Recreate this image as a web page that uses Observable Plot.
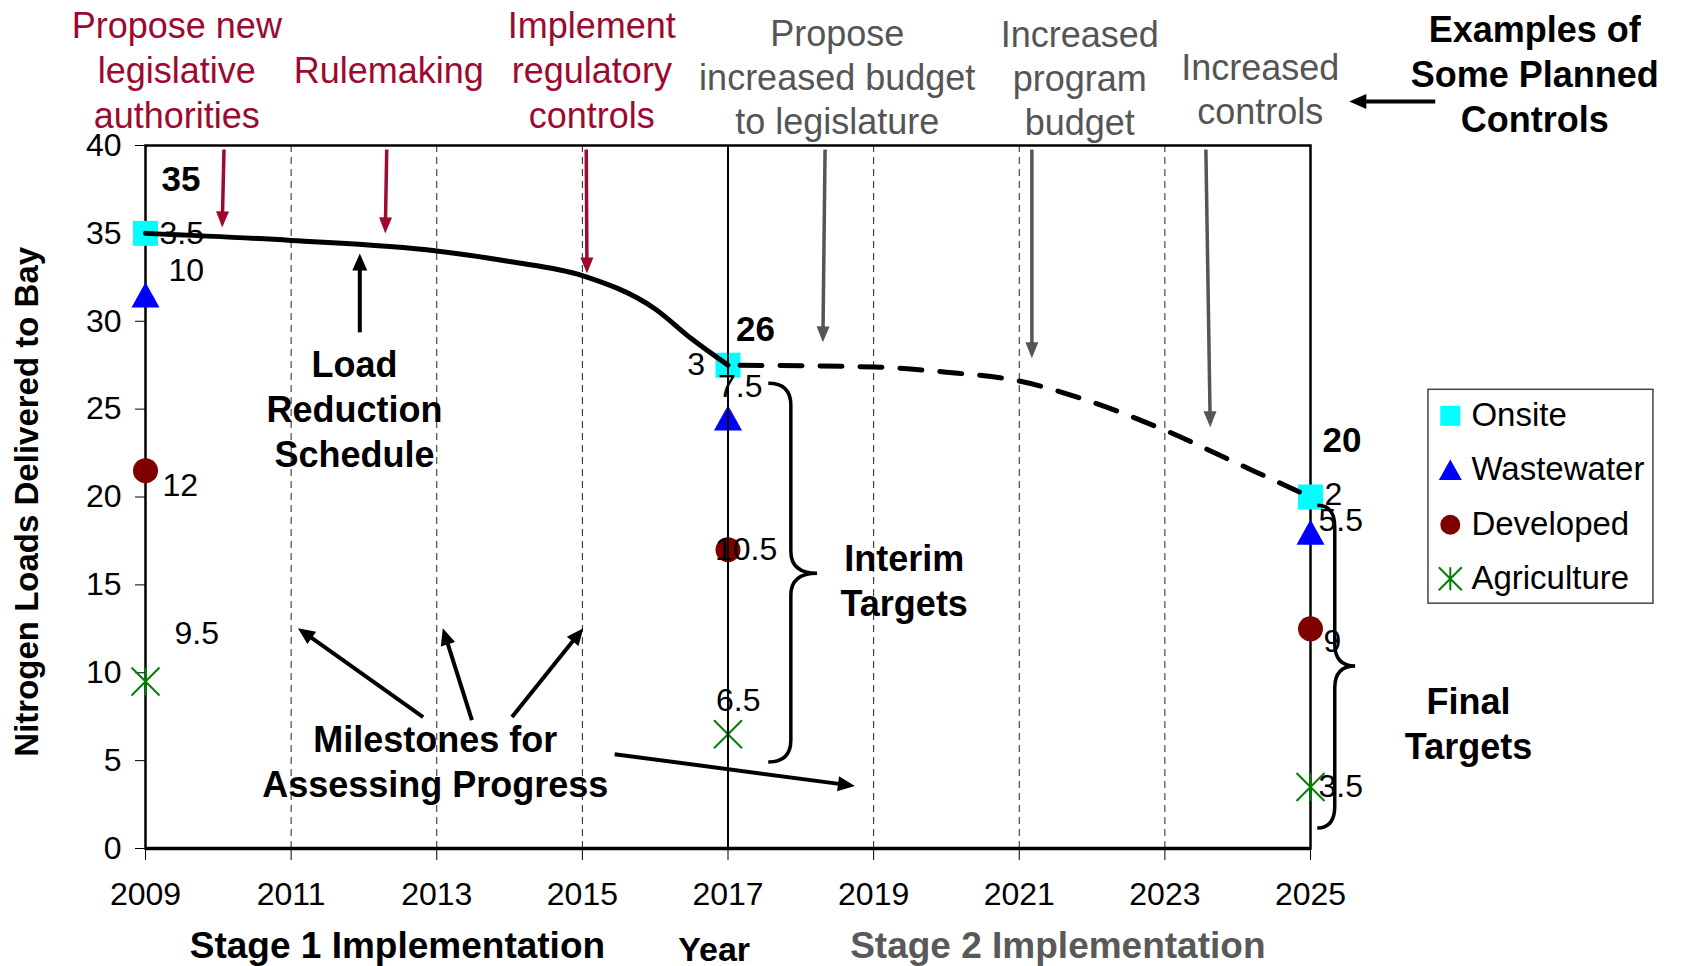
<!DOCTYPE html>
<html><head><meta charset="utf-8">
<script src="https://cdn.jsdelivr.net/npm/d3@7"></script>
<script src="https://cdn.jsdelivr.net/npm/@observablehq/plot@0.6"></script>
<style>body{margin:0;background:#fff} #chart svg{display:block}</style>
</head><body><div id="chart"></div>
<script>
// ---------------- DATA ----------------
const years = [2009, 2017, 2025];
const categories = ["Onsite", "Wastewater", "Developed", "Agriculture"];
const onsite = [3.5, 3, 2];
const wastewater = [10, 7.5, 5.5];
const developed = [12, 10.5, 9];
const agriculture = [9.5, 6.5, 3.5];
const totals = [35, 26, 20];
const scheduleYears = [2009, 2011, 2013, 2014, 2015, 2016, 2016.5, 2017];
const scheduleLoads = [35, 34.6, 34.0, 33.4, 32.6, 30.7, 29.0, 27.5];
const plannedYears = [2017, 2019, 2020, 2021, 2022, 2023, 2024, 2025];
const plannedLoads = [27.5, 27.4, 27.1, 26.6, 25.4, 23.8, 21.9, 20];
const xTicks = [2009, 2011, 2013, 2015, 2017, 2019, 2021, 2023, 2025];
const yTicks = [0, 5, 10, 15, 20, 25, 30, 35, 40];
const milestoneYears = [2011, 2013, 2015, 2019, 2021, 2023];
const interimYear = [2017];

// ---------------- LAYOUT / STYLE ----------------
const FONT = "'Liberation Sans', Arial, Helvetica, sans-serif";
const RED = "#9c0a2f", GRAY = "#555555";
const colors = {Onsite: "#00ffff", Wastewater: "#0000ff", Developed: "#800000", Agriculture: "#008000"};
const triSym = {draw(ctx, size) { const r = Math.sqrt(size / Math.PI), h = r * 0.9; ctx.moveTo(0, -h); ctx.lineTo(r, h); ctx.lineTo(-r, h); ctx.closePath(); }};
const starSym = {draw(ctx, size) { const r = Math.sqrt(size / Math.PI); ctx.moveTo(-r, -r); ctx.lineTo(r, r); ctx.moveTo(-r, r); ctx.lineTo(r, -r); ctx.moveTo(0, -r); ctx.lineTo(0, r); }};
const markerStyle = {
  Onsite: {symbol: "square", r: 14.1, fill: colors.Onsite, stroke: "none"},
  Wastewater: {symbol: triSym, r: 14, fill: colors.Wastewater, stroke: "none"},
  Developed: {symbol: "circle", r: 12.5, fill: colors.Developed, stroke: "none"},
  Agriculture: {symbol: starSym, r: 14, fill: "none", stroke: colors.Agriculture, strokeWidth: 2}
};
const legendStyle = {
  Onsite: {symbol: "square", r: 11.3, fill: colors.Onsite, stroke: "none"},
  Wastewater: {symbol: triSym, r: 11.5, fill: colors.Wastewater, stroke: "none"},
  Developed: {symbol: "circle", r: 10, fill: colors.Developed, stroke: "none"},
  Agriculture: {symbol: starSym, r: 11.5, fill: "none", stroke: colors.Agriculture, strokeWidth: 2}
};
// label offsets (px) per category for each year: [dx, dy, anchor]
const labelLayout = {
  Onsite: [[14, 0, "start"], [-23, 0, "end"], [14, -2, "start"]],
  Wastewater: [[23, -24, "start"], [-10, -31, "start"], [8, -11, "start"]],
  Developed: [[17, 15, "start"], [-13, 0, "start"], [13, 13, "start"]],
  Agriculture: [[29, -48, "start"], [-12, -34, "start"], [8, 0, "start"]]
};
const totalLayout = [[16, -54], [8, -35], [12, -56]];

const redNotes = [
  {text: "Propose new\nlegislative\nauthorities", x: 2009.43, y: 44.36},
  {text: "Rulemaking", x: 2012.34, y: 44.36},
  {text: "Implement\nregulatory\ncontrols", x: 2015.13, y: 44.36}
];
const grayNotes = [
  {text: "Propose\nincreased budget\nto legislature", x: 2018.5, y: 43.98},
  {text: "Increased\nprogram\nbudget", x: 2021.83, y: 43.92},
  {text: "Increased\ncontrols", x: 2024.31, y: 43.29}
];
const boldNotes = [
  {text: "Examples of\nSome Planned\nControls", x: 2028.08, y: 44.14},
  {text: "Load\nReduction\nSchedule", x: 2011.87, y: 25.09},
  {text: "Interim\nTargets", x: 2019.42, y: 15.34},
  {text: "Final\nTargets", x: 2027.17, y: 7.17},
  {text: "Milestones for\nAssessing Progress", x: 2012.98, y: 5.05}
];
const redArrows = [
  {x1: 2010.085, y1: 39.74, x2: 2010.06, y2: 35.31},
  {x1: 2012.32, y1: 39.74, x2: 2012.30, y2: 34.97},
  {x1: 2015.06, y1: 39.74, x2: 2015.07, y2: 32.69}
];
const grayArrows = [
  {x1: 2018.34, y1: 39.74, x2: 2018.31, y2: 28.77},
  {x1: 2021.18, y1: 39.74, x2: 2021.18, y2: 27.86},
  {x1: 2023.57, y1: 39.74, x2: 2023.63, y2: 23.94}
];
const blackArrows = [
  {x1: 2011.95, y1: 29.34, x2: 2011.95, y2: 33.83},
  {x1: 2012.82, y1: 7.45, x2: 2011.10, y2: 12.51},
  {x1: 2013.49, y1: 7.28, x2: 2013.09, y2: 12.51},
  {x1: 2014.04, y1: 7.45, x2: 2015.02, y2: 12.51},
  {x1: 2015.45, y1: 5.34, x2: 2018.75, y2: 3.53},
  {x1: 2026.72, y1: 42.47, x2: 2025.54, y2: 42.47}
];
const braces = [
  {x0: 2017.56, x1: 2017.87, xt: 2018.23, yTop: 26.44, yMid: 15.64, yBot: 4.89},
  {x0: 2025.10, x1: 2025.34, xt: 2025.62, yTop: 19.5, yMid: 10.35, yBot: 1.14}
];
const legendBox = [{x1: 2026.62, x2: 2029.71, y1: 13.93, y2: 26.10}];
const legendSymbolX = 2026.92, legendTextX = 2027.21;
const legendRowsY = [24.62, 21.55, 18.42, 15.35];

// ---------------- BUILD ----------------
const seriesValues = {Onsite: onsite, Wastewater: wastewater, Developed: developed, Agriculture: agriculture};
const stackOrder = ["Agriculture", "Developed", "Wastewater", "Onsite"];
const points = [];
years.forEach((yr, i) => {
  let cum = 0;
  for (const c of stackOrder) {
    cum += seriesValues[c][i];
    points.push({year: yr, category: c, value: seriesValues[c][i], top: cum, i});
  }
});
const onsiteTop = years.map((yr, i) => points.find(p => p.i === i && p.category === "Onsite"));

function arrows(data, {color, width, headLen, headW}) {
  return (index, scales) => {
    const g = d3.create("svg:g");
    for (const a of data) {
      const x1 = scales.x(a.x1), y1 = scales.y(a.y1), x2 = scales.x(a.x2), y2 = scales.y(a.y2);
      const ang = Math.atan2(y2 - y1, x2 - x1), c = Math.cos(ang), s = Math.sin(ang);
      const bx = x2 - headLen * c, by = y2 - headLen * s;
      g.append("line").attr("x1", x1).attr("y1", y1).attr("x2", bx + c).attr("y2", by + s)
        .attr("stroke", color).attr("stroke-width", width);
      g.append("path").attr("d", `M${x2},${y2}L${bx - headW / 2 * s},${by + headW / 2 * c}L${bx + headW / 2 * s},${by - headW / 2 * c}Z`)
        .attr("fill", color);
    }
    return g.node();
  };
}
function braceMark(data) {
  return (index, scales) => {
    const g = d3.create("svg:g");
    for (const b of data) {
      const x0 = scales.x(b.x0), x1 = scales.x(b.x1), xt = scales.x(b.xt);
      const yt = scales.y(b.yTop), ym = scales.y(b.yMid), yb = scales.y(b.yBot);
      const r = 22;
      const d = `M${x0},${yt}Q${x1},${yt} ${x1},${yt + r}L${x1},${ym - r}Q${x1},${ym} ${xt},${ym}` +
        `Q${x1},${ym} ${x1},${ym + r}L${x1},${yb - r}Q${x1},${yb} ${x0},${yb}`;
      g.append("path").attr("d", d).attr("fill", "none").attr("stroke", "#000").attr("stroke-width", 3.5);
    }
    return g.node();
  };
}

const marks = [
  Plot.ruleX(milestoneYears, {stroke: "#222", strokeWidth: 1, strokeDasharray: "7,5"}),
  Plot.frame({stroke: "#000", strokeWidth: 2.5}),
  Plot.ruleY([0], {stroke: "#000", strokeWidth: 3.5})
];
for (const c of categories) {
  marks.push(Plot.dot(points.filter(p => p.category === c), {x: "year", y: "top", ...markerStyle[c]}));
}
marks.push(
  Plot.line(scheduleYears.map((x, i) => ({x, y: scheduleLoads[i]})), {x: "x", y: "y", stroke: "#000", strokeWidth: 5, curve: "monotone-x"}),
  Plot.line(plannedYears.map((x, i) => ({x, y: plannedLoads[i]})), {x: "x", y: "y", stroke: "#000", strokeWidth: 5, strokeDasharray: "22,18", strokeDashoffset: -12, curve: "monotone-x"}),
  Plot.ruleX(interimYear, {stroke: "#000", strokeWidth: 2})
);
for (const p of points) {
  const [dx, dy, anchor] = labelLayout[p.category][p.i];
  marks.push(Plot.text([p], {x: "year", y: "top", text: d => String(d.value), dx, dy, textAnchor: anchor, fontSize: 32, fill: "#000"}));
}
onsiteTop.forEach((p, i) => {
  marks.push(Plot.text([p], {x: "year", y: "top", text: () => String(totals[i]), dx: totalLayout[i][0], dy: totalLayout[i][1], textAnchor: "start", fontSize: 35, fontWeight: "bold", fill: "#000"}));
});
marks.push(
  arrows(redArrows, {color: RED, width: 3.5, headLen: 16, headW: 13}),
  arrows(grayArrows, {color: GRAY, width: 3.5, headLen: 16, headW: 13}),
  arrows(blackArrows, {color: "#000", width: 4, headLen: 17, headW: 15}),
  braceMark(braces),
  Plot.text(redNotes, {x: "x", y: "y", text: "text", fill: RED, fontSize: 36, lineHeight: 1.25}),
  Plot.text(grayNotes, {x: "x", y: "y", text: "text", fill: GRAY, fontSize: 36, lineHeight: 1.22}),
  Plot.text(boldNotes, {x: "x", y: "y", text: "text", fill: "#000", fontSize: 36, fontWeight: "bold", lineHeight: 1.25}),
  Plot.text([{t: "Stage 1 Implementation", x: 2012.46, y: -5.57}], {x: "x", y: "y", text: "t", fontSize: 37, fontWeight: "bold", fill: "#000"}),
  Plot.text([{t: "Year", x: 2016.81, y: -5.80}], {x: "x", y: "y", text: "t", fontSize: 34, fontWeight: "bold", fill: "#000"}),
  Plot.text([{t: "Stage 2 Implementation", x: 2021.53, y: -5.57}], {x: "x", y: "y", text: "t", fontSize: 37, fontWeight: "bold", fill: "#595959"}),
  Plot.text([{t: "Nitrogen Loads Delivered to Bay", x: 2007.38, y: 19.73}], {x: "x", y: "y", text: "t", fontSize: 33, fontWeight: "bold", fill: "#000", rotate: -90}),
  Plot.rect(legendBox, {x1: "x1", x2: "x2", y1: "y1", y2: "y2", fill: "#fff", stroke: "#444", strokeWidth: 1.5})
);
categories.forEach((c, i) => {
  marks.push(Plot.dot([{x: legendSymbolX, y: legendRowsY[i]}], {x: "x", y: "y", ...legendStyle[c]}));
  marks.push(Plot.text([{x: legendTextX, y: legendRowsY[i], t: c}], {x: "x", y: "y", text: "t", textAnchor: "start", fontSize: 33, fill: "#000"}));
});

const chart = Plot.plot({
  width: 1682, height: 966,
  marginLeft: 145, marginRight: 372, marginTop: 145, marginBottom: 118,
  style: {fontFamily: FONT, fontSize: "32px", color: "#000", background: "#fff", overflow: "visible"},
  x: {domain: [2009, 2025], ticks: xTicks, tickFormat: d => String(d), tickSize: 12, tickPadding: 22, label: null},
  y: {domain: [0, 40], ticks: yTicks, tickSize: 10, tickPadding: 14, label: null},
  marks
});
document.getElementById("chart").appendChild(chart);
</script></body></html>
